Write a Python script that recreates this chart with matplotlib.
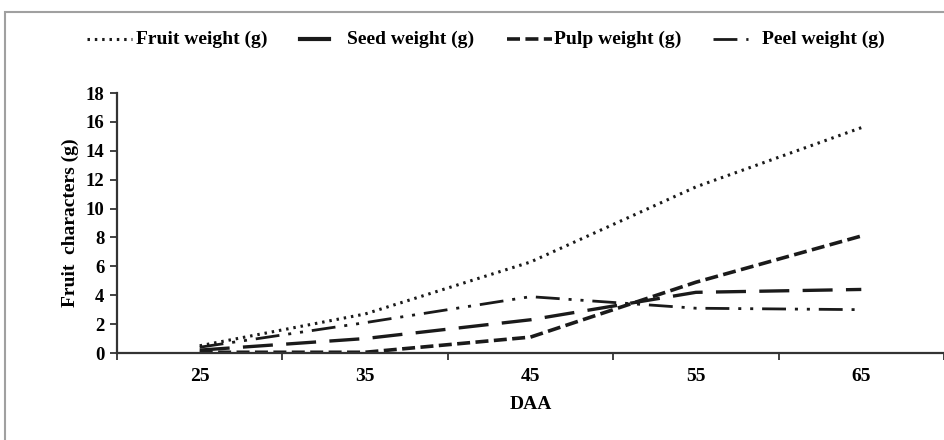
import matplotlib
matplotlib.use("Agg")
import matplotlib.pyplot as plt
from matplotlib.patches import Rectangle
from matplotlib.lines import Line2D
import numpy as np

days = ["25", "35", "45", "55", "65"]
fruit_weight = [0.5, 2.7, 6.3, 11.5, 15.6]
seed_weight = [0.2, 1.0, 2.3, 4.2, 4.4]
pulp_weight = [0.05, 0.05, 1.1, 4.9, 8.1]
peel_weight = [0.4, 2.1, 3.9, 3.1, 3.0]
yticks = [0, 2, 4, 6, 8, 10, 12, 14, 16, 18]
labels = ['Fruit weight (g)', 'Seed weight (g)', 'Pulp weight (g)', 'Peel weight (g)']

plt.rcParams['font.family'] = ['Liberation Serif', 'DejaVu Serif']
plt.rcParams['font.weight'] = 'bold'

W, H = 944, 440
fig = plt.figure(figsize=(W / 100, H / 100), dpi=100)
fig.patches.append(Rectangle((5 / W, -0.05), 1.1, 1 - 12 / H + 0.05,
                             transform=fig.transFigure, fill=False,
                             edgecolor='#a0a0a0', linewidth=1.5))

ax = fig.add_axes([117 / W, 1 - 353 / H, (W - 117) / W, (353 - 93) / H])
x = np.arange(len(days))
c = '#1a1a1a'
styles = [
    dict(lw=2.2, linestyle=(0, (0.8, 1.6)), dash_capstyle='butt'),
    dict(lw=2.4, linestyle=(0, (9, 4))),
    dict(lw=2.6, linestyle=(0, (3.6, 1.5))),
    dict(lw=2.0, linestyle=(0, (8.6, 3.2, 1.1, 3.2, 1.1, 3.2))),
]
series = [fruit_weight, seed_weight, pulp_weight, peel_weight]
for vals, st, lab in zip(series, styles, labels):
    ax.plot(x, vals, color=c, label=lab, **st)

ax.set_xlim(-0.5, 4.5)
ax.set_ylim(0, 18)
ax.set_yticks(yticks)
ax.set_yticklabels([str(v) for v in yticks], fontsize=13.5, fontweight='bold')
ax.set_xticks(x)
ax.set_xticklabels(days, fontsize=14, fontweight='bold')
ax.tick_params(axis='x', length=0, pad=11)
ax.set_xticks(np.arange(-0.5, 5.0, 1.0), minor=True)
ax.tick_params(axis='x', which='minor', length=5, width=1.3, direction='out', color='#333333')
ax.tick_params(axis='y', length=5, width=1.3, direction='out', color='#333333', pad=4)
for s in ['top', 'right']:
    ax.spines[s].set_visible(False)
for s in ['left', 'bottom']:
    ax.spines[s].set_linewidth(1.6)
    ax.spines[s].set_color('#333333')

ax.set_xlabel('DAA', fontsize=14, fontweight='bold', labelpad=8)
ax.set_ylabel('Fruit  characters (g)', fontsize=14, fontweight='bold', labelpad=5)

# legend drawn manually to match the reference spacing
ly = 1 - 39 / H
handle_spans = [(87, 132), (300, 329), (507, 552), (713, 748)]
text_x = [136, 347, 554, 762]
leg_styles = [
    dict(lw=2.2, linestyle=(0, (0.8, 1.6)), dash_capstyle='butt'),
    dict(lw=3.0, linestyle='-'),
    dict(lw=2.6, linestyle=(0, (3.6, 1.5))),
    dict(lw=2.0, linestyle=(0, (8.6, 3.2, 1.1, 3.2))),
]
for (x0, x1), tx, st, lab in zip(handle_spans, text_x, leg_styles, labels):
    fig.add_artist(Line2D([x0 / W, x1 / W], [ly, ly], transform=fig.transFigure, color=c, **st))
    fig.text(tx / W, ly, lab, ha='left', va='center', fontsize=14, fontweight='bold')

fig.savefig('out.png', dpi=100)
